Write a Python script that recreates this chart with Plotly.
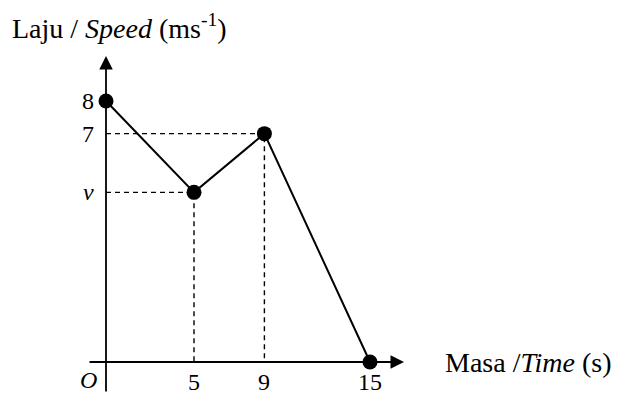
import plotly.graph_objects as go

# Data (speed-time graph)
time_s = [0, 5, 9, 15]
speed = [8, 5.2, 7, 0]          # v is unknown
x_tick_vals = [5, 9, 15]
x_tick_text = ["5", "9", "15"]
y_tick_vals = [8, 7, 5.2]
y_tick_text = ["8", "7", "<i>v</i>"]

OFF = 8                      # browser body margin
W, H = 621 - OFF, 397 - OFF
# target page pixels: x=0 -> 106, x=15 -> 370 ; y=0 -> 362, y=8 -> 101
px_per_x = (370 - 106) / 15
px_per_y = (362 - 101) / 8
x0 = -(106 - OFF) / px_per_x
x1 = x0 + W / px_per_x
y0 = -(H - (362 - OFF)) / px_per_y
y1 = y0 + H / px_per_y


def px_x(p):  # page pixel -> data x (only for decorations/labels placement)
    return x0 + (p - OFF) / px_per_x


def px_y(p):
    return y1 - (p - OFF) / px_per_y


fig = go.Figure()
serif = "Liberation Serif"

# dashed guide lines from the points at t=5 and t=9
for i in (1, 2):
    fig.add_trace(go.Scatter(
        x=[0, time_s[i], time_s[i]], y=[speed[i], speed[i], 0],
        mode="lines", line=dict(color="black", width=1.4, dash="5px,4px"),
        hoverinfo="skip", showlegend=False))

# main line with markers
fig.add_trace(go.Scatter(
    x=time_s, y=speed, mode="lines+markers",
    line=dict(color="black", width=2),
    marker=dict(color="black", size=15),
    showlegend=False, cliponaxis=False))

annotations = []
# axes with arrows
annotations.append(dict(x=px_x(404), y=0, ax=px_x(88), ay=0, xref="x", yref="y",
                        axref="x", ayref="y", showarrow=True, arrowhead=2,
                        arrowsize=1.5, arrowwidth=1.8, arrowcolor="black", text=""))
annotations.append(dict(x=0, y=px_y(56), ax=0, ay=px_y(393), xref="x", yref="y",
                        axref="x", ayref="y", showarrow=True, arrowhead=2,
                        arrowsize=1.5, arrowwidth=1.8, arrowcolor="black", text=""))

tick_font = dict(family=serif, size=24, color="black")
# x tick labels
for v, t in zip(x_tick_vals, x_tick_text):
    annotations.append(dict(x=v, y=0, xref="x", yref="y", text=t, showarrow=False,
                            yanchor="middle", yshift=-20, font=tick_font))
annotations.append(dict(x=0, y=0, xref="x", yref="y", text="<i>O</i>", showarrow=False,
                        xanchor="right", yanchor="middle", xshift=-7, yshift=-18,
                        font=tick_font))
# y tick labels
for v, t in zip(y_tick_vals, y_tick_text):
    annotations.append(dict(x=0, y=v, xref="x", yref="y", text=t, showarrow=False,
                            xanchor="right", xshift=-10, font=tick_font))

# axis titles
annotations.append(dict(x=(10 - OFF) / W, y=1 - (26 - OFF) / H, xref="paper", yref="paper",
                        text="Laju / <i>Speed</i> (ms<sup>-1</sup>)", showarrow=False,
                        xanchor="left", yanchor="middle",
                        font=dict(family=serif, size=28, color="black")))
annotations.append(dict(x=(443 - OFF) / W, y=1 - (362 - OFF) / H, xref="paper", yref="paper",
                        text="Masa /<i>Time</i> (s)", showarrow=False,
                        xanchor="left", yanchor="middle",
                        font=dict(family=serif, size=28, color="black")))

fig.update_layout(
    width=W, height=H,
    margin=dict(l=0, r=0, t=0, b=0),
    paper_bgcolor="white", plot_bgcolor="white",
    xaxis=dict(range=[x0, x1], visible=False, fixedrange=True),
    yaxis=dict(range=[y0, y1], visible=False, fixedrange=True),
    annotations=annotations,
    showlegend=False,
)

fig.write_html("out.html")
